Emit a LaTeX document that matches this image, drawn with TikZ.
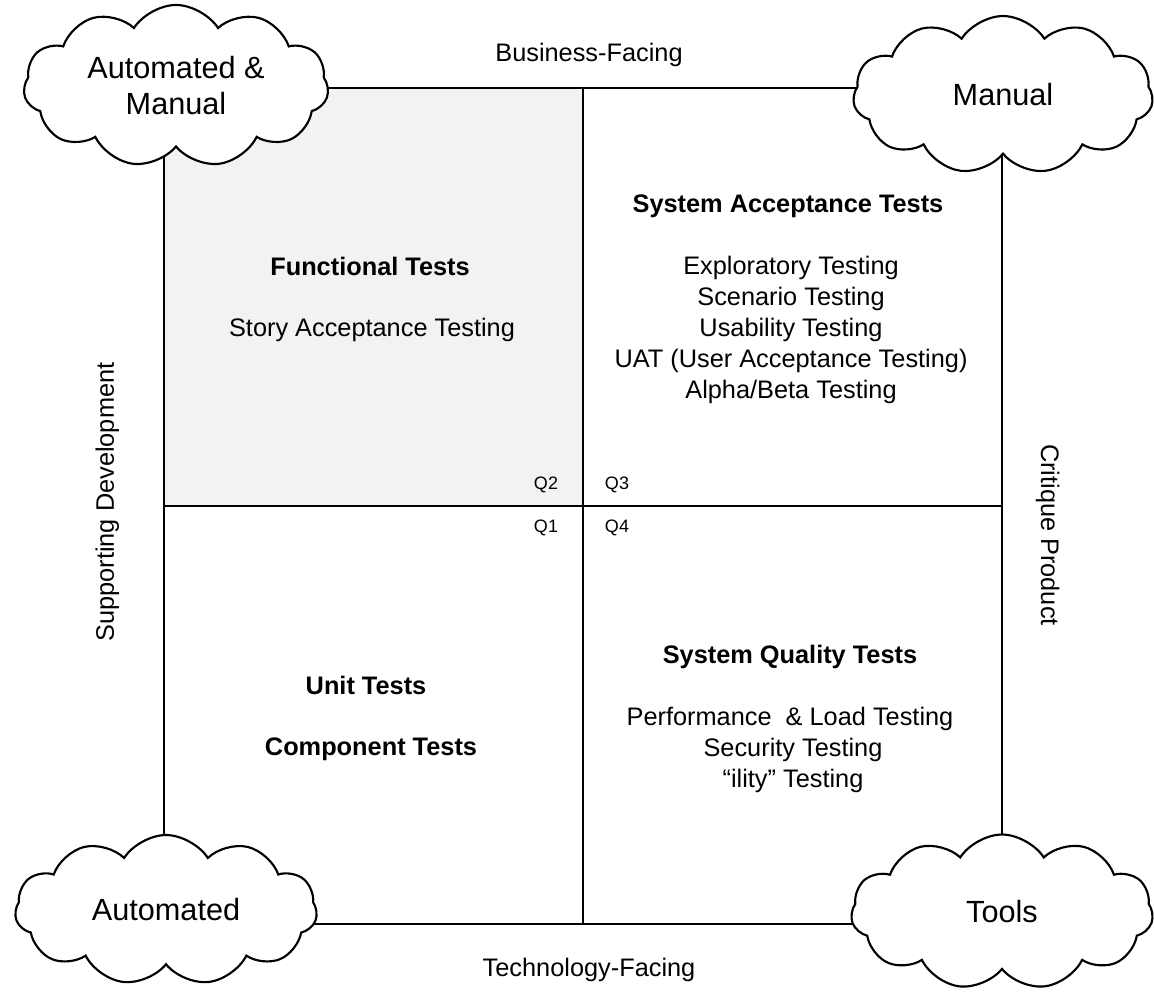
\documentclass[tikz,border=0pt]{standalone}
\usepackage{fontspec}
\setmainfont{Liberation Sans}
\usetikzlibrary{shapes.symbols}
\begin{document}
\begin{tikzpicture}[x=0.75pt,y=-0.75pt,
  frame/.style={draw=black,line width=1pt},
  puff/.style={shape=cloud,draw=black,fill=white,line width=1.6pt,cloud puffs=11,cloud puff arc=115,aspect=1.95,inner sep=0pt,font=\fontsize{23}{27}\selectfont,align=center},
  txt/.style={inner sep=0pt,text height=0.72em,text depth=0pt},
  axis/.style={txt,font=\fontsize{19}{23}\selectfont},
  head/.style={txt,font=\bfseries\fontsize{19}{23}\selectfont},
  item/.style={txt,font=\fontsize{19}{23}\selectfont},
  quad/.style={txt,font=\fontsize{13.5}{16}\selectfont}]
\useasboundingbox (0,0) rectangle (1154,997);
% shaded second quadrant
\fill[gray!10] (164,88) rectangle (583,506);
% outer square and dividing lines
\draw[frame] (164,88) rectangle (1002,924);
\draw[frame] (583,88) -- (583,924);
\draw[frame] (164,506) -- (1002,506);
% axis labels
\node[axis] (bf) at (589,57) {Business-Facing};
\node[axis] (tf) at (589,972) {Technology-Facing};
\node[axis,rotate=90] (sd) at (109,502) {Supporting Development};
\node[axis,rotate=-90] (cp) at (1046,535) {Critique Product};
% corner clouds
\node[puff,minimum width=305pt*0.75,minimum height=155pt*0.75] (am) at (176,86) {Automated \&\\Manual};
\node[puff,minimum width=300pt*0.75,minimum height=158pt*0.75] (man) at (1003,95) {Manual};
\node[puff,minimum width=302pt*0.75,minimum height=150pt*0.75] (aut) at (166,910) {Automated};
\node[puff,minimum width=302pt*0.75,minimum height=155pt*0.75] (tools) at (1002,912) {Tools};
% quadrant markers
\node[quad] (q2) at (546,485) {Q2};
\node[quad] (q3) at (617,485) {Q3};
\node[quad] (q1) at (546,528) {Q1};
\node[quad] (q4) at (617,528) {Q4};
% Q2 contents
\node[head] (ft) at (370,271) {Functional Tests};
\node[item] (sat) at (372,332) {Story Acceptance Testing};
% Q3 contents
\node[head] (sys) at (788,208) {System Acceptance Tests};
\node[item] (exp) at (791,270) {Exploratory Testing};
\node[item] (scn) at (791,301) {Scenario Testing};
\node[item] (usa) at (791,332) {Usability Testing};
\node[item] (uat) at (791,363) {UAT (User Acceptance Testing)};
\node[item] (alb) at (791,394) {Alpha/Beta Testing};
% Q1 contents
\node[head] (ut) at (366,690) {Unit Tests};
\node[head] (ct) at (371,751) {Component Tests};
% Q4 contents
\node[head] (sqt) at (790,659) {System Quality Tests};
\node[item] (pl) at (790,721) {Performance\ \ \& Load Testing};
\node[item] (sec) at (793,752) {Security Testing};
\node[item] (ily) at (793,783) {“ility” Testing};
\end{tikzpicture}
\end{document}
